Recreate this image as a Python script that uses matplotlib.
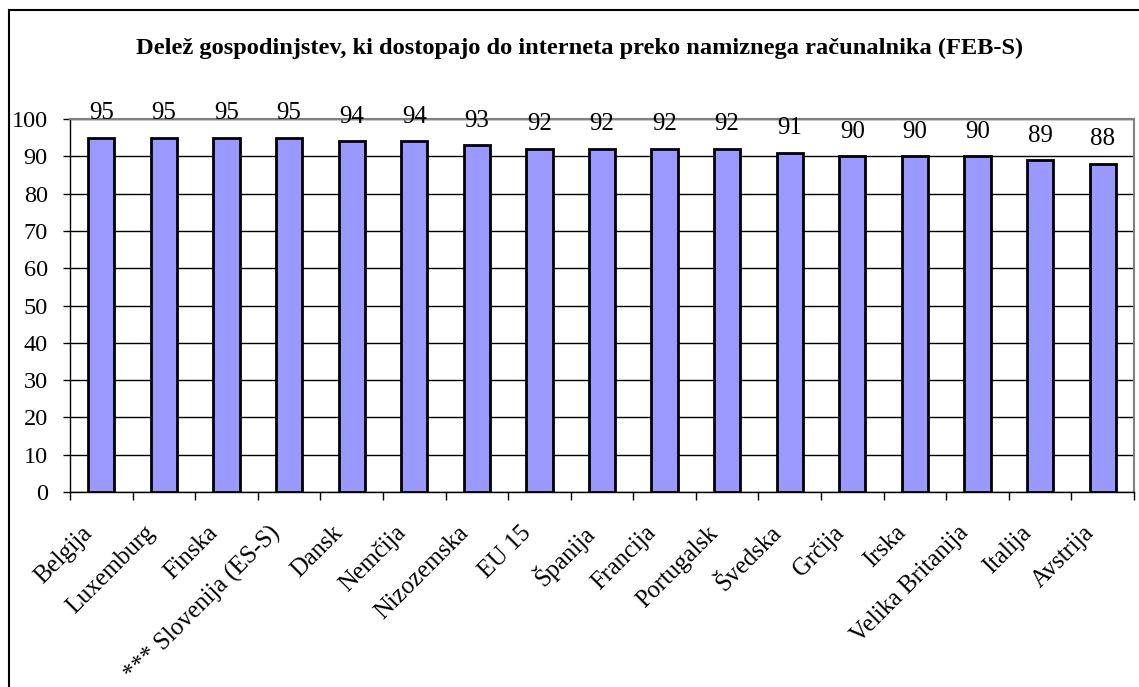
import numpy as np
import matplotlib.pyplot as plt
from matplotlib.patches import Rectangle
from matplotlib.transforms import ScaledTranslation

drzave = ['Belgija', 'Luxemburg', 'Finska', '*** Slovenija (ES-S)', 'Dansk', 'Nemčija',
          'Nizozemska', 'EU 15', 'Španija', 'Francija', 'Portugalsk', 'Švedska',
          'Grčija', 'Irska', 'Velika Britanija', 'Italija', 'Avstrija']
delez = [95, 95, 95, 95, 94, 94, 93, 92, 92, 92, 92, 91, 90, 90, 90, 89, 88]
naslov = 'Delež gospodinjstev, ki dostopajo do interneta preko namiznega računalnika (FEB-S)'

plt.rcParams['font.family'] = ['Liberation Serif', 'DejaVu Serif']

fig = plt.figure(figsize=(11.39, 6.87), dpi=100)
ax = fig.add_axes([70 / 1139, 1 - 492 / 687, 1064 / 1139, 373 / 687])

x = np.arange(len(drzave))
ax.bar(x, delez, width=0.42, color='#9999ff', edgecolor='black', linewidth=2, zorder=3)

# oznake vrednosti nad stolpci
for xi, v in zip(x, delez):
    ax.annotate(str(v), (xi, v), xytext=(0, 13.3), textcoords='offset points',
                ha='center', va='baseline', fontsize=18, zorder=5)

ax.set_xlim(-0.5, len(drzave) - 0.5)
ax.set_ylim(0, 100)
ax.set_yticks(range(0, 101, 10))
ax.yaxis.grid(True, color='black', linewidth=1)
ax.set_axisbelow(True)
ax.tick_params(axis='y', labelsize=17.5, length=5, direction='out', width=1, pad=11)

ax.set_xticks(np.arange(-0.5, len(drzave), 1))
ax.set_xticklabels([])
ax.set_xticks(x, minor=True)
ax.set_xticklabels(drzave, minor=True, rotation=45, ha='right', va='center',
                   rotation_mode='anchor', fontsize=17.7)
ax.tick_params(axis='x', which='major', length=6, width=1, direction='out')
ax.tick_params(axis='x', which='minor', length=0, pad=27)
premik = ScaledTranslation(-0.12, 0, fig.dpi_scale_trans)
for lab in ax.get_xticklabels(minor=True):
    lab.set_transform(lab.get_transform() + premik)

for s in ['top', 'right']:
    ax.spines[s].set_color('#808080')
    ax.spines[s].set_linewidth(1.5)
ax.spines['left'].set_linewidth(1)
ax.spines['bottom'].set_linewidth(1)

fig.text(580 / 1139, 1 - 48 / 687, naslov, ha='center', va='center',
         fontsize=17.6, fontweight='bold')

fig.patches.append(Rectangle((8.5 / 1139, -0.1), 2, 1.1 - 10 / 687,
                             transform=fig.transFigure, fill=False,
                             edgecolor='black', linewidth=1.5))

fig.savefig('out.png', dpi=100)
